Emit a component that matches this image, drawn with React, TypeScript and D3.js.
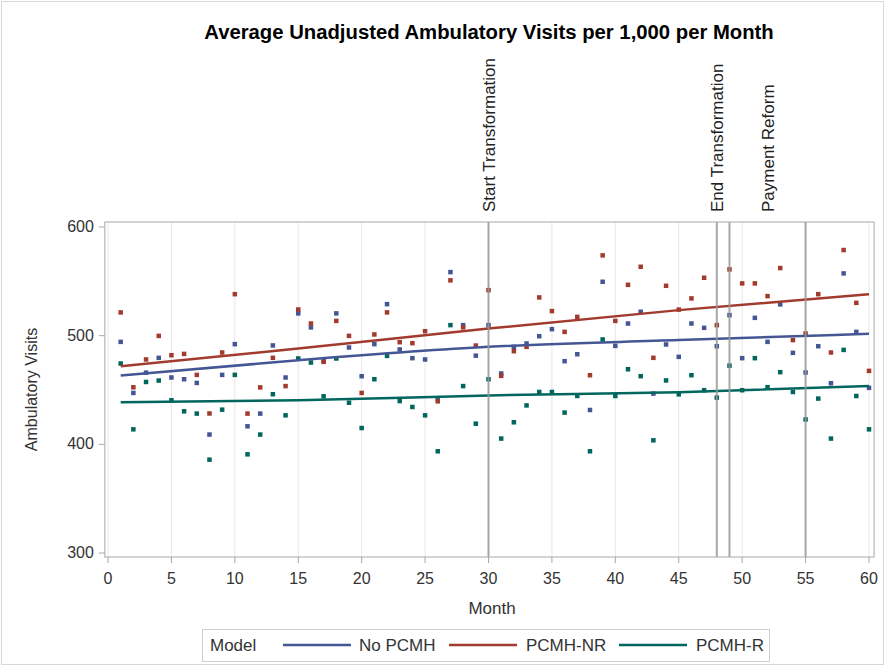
import React from 'react';
import * as d3 from 'd3';

// month index (x axis)
const months = [
  1, 2, 3, 4, 5, 6, 7, 8, 9, 10, 11, 12, 13, 14, 15, 16, 17, 18, 19, 20,
  21, 22, 23, 24, 25, 26, 27, 28, 29, 30, 31, 32, 33, 34, 35, 36, 37, 38, 39, 40,
  41, 42, 43, 44, 45, 46, 47, 48, 49, 50, 51, 52, 53, 54, 55, 56, 57, 58, 59, 60,
];

const noPcmh = [
  494.3, 447.3, 466, 479.6, 461.5, 459.9, 456.5, 409, 463.9, 492.2,
  416.6, 428.3, 491, 461.5, 520.5, 507.6, 476.8, 520.5, 489.1, 462.7,
  492.2, 529, 487.3, 479.3, 478.1, 442, 558.5, 509.7, 481.6, 509.7,
  465.2, 489.7, 492.8, 499.5, 506, 476.5, 482.9, 431.6, 549.6, 490.6,
  511.2, 522, 446.7, 491.9, 480.5, 511.2, 507.2, 490.3, 518.9, 479.3,
  516.4, 494.3, 528.8, 484.2, 466.1, 490.3, 456.2, 557.3, 503.5, 452,
];

const pcmhNR = [
  521.4, 452.5, 478.1, 499.8, 482, 483.2, 463.9, 428.4, 484.5, 538.2,
  428.3, 452.4, 479.6, 453.6, 524.1, 511.2, 475.9, 513.6, 499.8, 447.3,
  501.1, 521.4, 494, 493.1, 504.1, 439.6, 550.9, 507.6, 490.9, 541.9,
  463, 485.7, 489.7, 535.2, 522.6, 503.5, 517.3, 463.6, 573.9, 513.6,
  546.8, 563.4, 479.6, 545.9, 524, 534.3, 553.3, 509.7, 561, 548.1,
  548.1, 536.4, 562.2, 495.9, 502, 538.2, 484.5, 578.8, 530.2, 467.6,
];

const pcmhR = [
  474.4, 413.8, 457.4, 458.7, 440.6, 430.4, 428.3, 385.9, 431.9, 463.9,
  390.8, 409, 446.1, 426.7, 479, 475.3, 444.2, 479, 438.3, 415,
  459.9, 481.4, 439.8, 434.4, 426.7, 393.6, 509.7, 453.6, 419, 459.9,
  405.3, 420.3, 435.8, 448.2, 448.2, 429.2, 444.5, 393.6, 496.5, 444.5,
  469.1, 462.7, 403.7, 458.8, 446, 463.6, 449.8, 443, 472.4, 449.8,
  479.3, 452.6, 466.4, 448.2, 422.9, 442.1, 405.3, 486.9, 444.5, 413.8,
];

// fitted trend, read at a few months
const trendMonths = [1, 15, 30, 45, 60];
const trendNoPcmh = [463.3, 477.4, 489.7, 495.9, 501.7];
const trendNR = [471.9, 488.2, 506.5, 523.5, 538.2];
const trendR = [438.7, 440.5, 445.0, 448.0, 453.7];

const xTicks = [0, 5, 10, 15, 20, 25, 30, 35, 40, 45, 50, 55, 60];
const yTicks = [300, 400, 500, 600];

const refLines = [30, 48, 49, 55];
const refLabels = [
  { label: 'Start Transformation', at: 30 },
  { label: 'End Transformation', at: 48 },
  { label: 'Payment Reform', at: 52 },
];

const seriesNames = ['No PCMH', 'PCMH-NR', 'PCMH-R'];
const colors = ['#445694', '#A23A2E', '#01665E'];

const W = 885;
const H = 666;
const font = '"Liberation Sans", Arial, sans-serif';

export default function App() {
  const x = d3.scaleLinear().domain([0, 60]).range([108, 869]);
  const y = d3.scaleLinear().domain([300, 600]).range([553, 227]);
  const left = x(-0.25);
  const right = x(60.4);
  const top = 222;
  const bottom = 557;

  const series = [noPcmh, pcmhNR, pcmhR];
  const trends = [trendNoPcmh, trendNR, trendR];

  const line = d3.line<number>()
    .x((_, i) => x(trendMonths[i]))
    .y(d => y(d))
    .curve(d3.curveMonotoneX);

  // legend swatch start / label start
  const legendItems = [
    { x0: 283, tx: 359 },
    { x0: 449, tx: 526 },
    { x0: 619, tx: 696 },
  ];

  return (
    <svg width={W} height={H} style={{ position: 'absolute', left: 0, top: 0, background: '#fff' }}>
      <rect x={1.5} y={1.5} width={W - 3} height={H - 3} fill="#fff" stroke="#d8d8d8" />

      <text x={489} y={39} textAnchor="middle" fontFamily={font} fontWeight="bold" fontSize={20.3} fill="#000">
        Average Unadjusted Ambulatory Visits per 1,000 per Month
      </text>

      {/* grid */}
      {xTicks.map(t => (
        <line key={'g' + t} x1={x(t)} x2={x(t)} y1={top} y2={bottom} stroke="#e6e6e6" strokeWidth={1} />
      ))}

      {/* points */}
      {series.map((vals, s) => (
        <g key={'s' + s} fill={colors[s]}>
          {vals.map((v, i) => (
            <rect key={i} x={x(months[i]) - 2.25} y={y(v) - 2.25} width={4.5} height={4.5} />
          ))}
        </g>
      ))}

      {/* trend lines */}
      {trends.map((vals, s) => (
        <path key={'t' + s} d={line(vals) || ''} fill="none" stroke={colors[s]} strokeWidth={2.5} />
      ))}

      {/* reference lines */}
      {refLines.map(r => (
        <line key={'r' + r} x1={x(r)} x2={x(r)} y1={top} y2={bottom} stroke="#999" strokeWidth={2} opacity={0.85} />
      ))}
      {refLabels.map(r => (
        <text key={r.label} transform={`translate(${x(r.at) + 6},212) rotate(-90)`} fontFamily={font}
          fontSize={17} fill="#222">
          {r.label}
        </text>
      ))}

      {/* frame */}
      <rect x={left} y={top} width={right - left} height={bottom - top} fill="none" stroke="#a8a8a8" />

      {/* y axis */}
      {yTicks.map(t => (
        <g key={'y' + t}>
          <line x1={left - 6} x2={left} y1={y(t)} y2={y(t)} stroke="#a8a8a8" />
          <text x={left - 11} y={y(t) + 5} textAnchor="end" fontFamily={font} fontSize={16} fill="#333">{t}</text>
        </g>
      ))}
      <text transform={`translate(37,${(top + bottom) / 2}) rotate(-90)`} textAnchor="middle"
        fontFamily={font} fontSize={16} fill="#333">Ambulatory Visits</text>

      {/* x axis */}
      {xTicks.map(t => (
        <g key={'x' + t}>
          <line x1={x(t)} x2={x(t)} y1={bottom} y2={bottom + 6} stroke="#a8a8a8" />
          <text x={x(t)} y={bottom + 27} textAnchor="middle" fontFamily={font} fontSize={16} fill="#333">{t}</text>
        </g>
      ))}
      <text x={492} y={614} textAnchor="middle" fontFamily={font} fontSize={17} fill="#333">Month</text>

      {/* legend */}
      <rect x={202.5} y={629.5} width={567} height={32} fill="#fff" stroke="#cfcfcf" />
      <text x={210} y={651} fontFamily={font} fontSize={17} fill="#333">Model</text>
      {legendItems.map((it, i) => (
        <g key={'l' + i}>
          <line x1={it.x0} x2={it.x0 + 68} y1={645} y2={645} stroke={colors[i]} strokeWidth={2.5} />
          <text x={it.tx} y={651} fontFamily={font} fontSize={17} fill="#333">{seriesNames[i]}</text>
        </g>
      ))}
    </svg>
  );
}
